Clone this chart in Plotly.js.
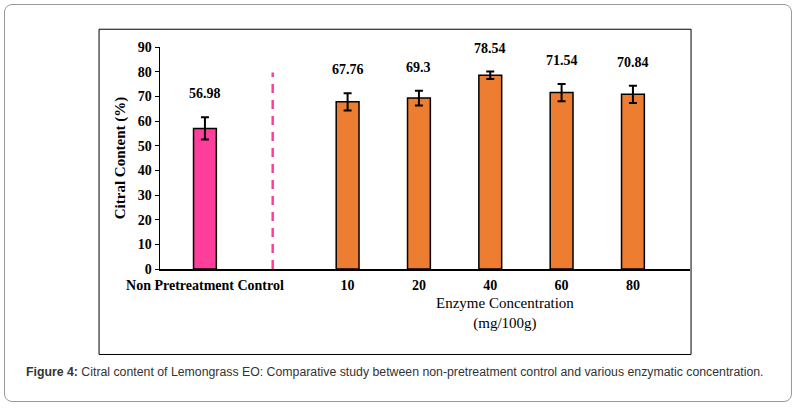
<!DOCTYPE html>
<html>
<head>
<meta charset="utf-8">
<script src="https://cdn.plot.ly/plotly-3.0.1.min.js"></script>
<style>
  body { margin: 0; background: #fff; }
  #plot { width: 795px; height: 410px; }
</style>
</head>
<body>
<div id="plot"></div>
<script>
const controlLabel = ['Non Pretreatment Control'];
const controlValue = [56.98];
const controlError = [4.5];

const enzymeLabels = ['10', '20', '40', '60', '80'];
const enzymeValues = [67.76, 69.3, 78.54, 71.54, 70.84];
const enzymeErrors = [3.5, 3.0, 1.5, 3.5, 3.5];

const controlPos = [0];
const enzymePos = [2, 3, 4, 5, 6];

const serif = 'Liberation Serif, Times New Roman, serif';

const control = {
  type: 'bar',
  x: controlPos,
  y: controlValue,
  width: 0.32,
  marker: { color: '#FF3E9B', line: { color: '#000', width: 1.5 } },
  error_y: { type: 'data', array: controlError, color: '#000', thickness: 2, width: 4 },
  hoverinfo: 'none',
};

const enzyme = {
  type: 'bar',
  x: enzymePos,
  y: enzymeValues,
  width: 0.32,
  marker: { color: '#ED7D31', line: { color: '#000', width: 1.5 } },
  error_y: { type: 'data', array: enzymeErrors, color: '#000', thickness: 2, width: 4 },
  hoverinfo: 'none',
};

const valueLabels = controlPos.concat(enzymePos).map((p, i) => {
  const v = controlValue.concat(enzymeValues)[i];
  const e = controlError.concat(enzymeErrors)[i];
  return {
    x: p, y: v + e, yanchor: 'bottom', yshift: 14, showarrow: false,
    text: String(v), font: { family: serif, size: 14, color: '#000', weight: 'bold' },
  };
});

const layout = {
  width: 795,
  height: 410,
  showlegend: false,
  paper_bgcolor: '#fff',
  plot_bgcolor: 'rgba(0,0,0,0)',
  margin: { l: 160, r: 105, t: 47, b: 141 },
  xaxis: {
    range: [-0.63, 6.8],
    tickvals: controlPos.concat(enzymePos),
    ticktext: controlLabel.concat(enzymeLabels),
    showgrid: false, zeroline: false,
    showline: true, linecolor: '#000', linewidth: 1.5,
    ticks: '', ticklabelstandoff: 3,
    tickfont: { family: serif, size: 14, color: '#000', weight: 'bold' },
  },
  yaxis: {
    range: [0, 90],
    dtick: 10,
    showgrid: false, zeroline: false,
    showline: true, linecolor: '#000', linewidth: 1.5,
    ticks: 'outside', ticklen: 4, tickcolor: '#000',
    tickfont: { family: serif, size: 14, color: '#000', weight: 'bold' },
    title: { text: 'Citral Content (%)', font: { family: serif, size: 15, color: '#000', weight: 'bold' }, standoff: 8 },
  },
  shapes: [
    { type: 'rect', xref: 'paper', yref: 'paper', x0: -0.115, x1: 1.002, y0: -0.385, y1: 1.08,
      line: { color: '#000', width: 1 } },
    { type: 'line', xref: 'x', yref: 'paper', x0: 0.95, x1: 0.95, y0: 0, y1: 0.885,
      line: { color: '#FF3E9B', width: 2.5, dash: '9px,7px' } },
  ],
  annotations: valueLabels.concat([
    { xref: 'paper', yref: 'paper', x: 0.65, y: -0.11, yanchor: 'top', showarrow: false,
      text: 'Enzyme Concentration<br>(mg/100g)', font: { family: serif, size: 15, color: '#000' } },
    { xref: 'paper', yref: 'paper', x: -0.256, y: -0.425, xanchor: 'left', yanchor: 'top', showarrow: false,
      text: '<b>Figure 4:</b> Citral content of Lemongrass EO: Comparative study between non-pretreatment control and various enzymatic concentration.',
      font: { family: 'Liberation Sans, Arial, sans-serif', size: 12.3, color: '#333' } },
  ]),
};

Plotly.newPlot('plot', [control, enzyme], layout, { displayModeBar: false, staticPlot: true });
</script>
<div style="position:absolute;left:4px;top:4px;width:786px;height:396px;border:1px solid #999;border-radius:8px;pointer-events:none;"></div>
</body>
</html>
